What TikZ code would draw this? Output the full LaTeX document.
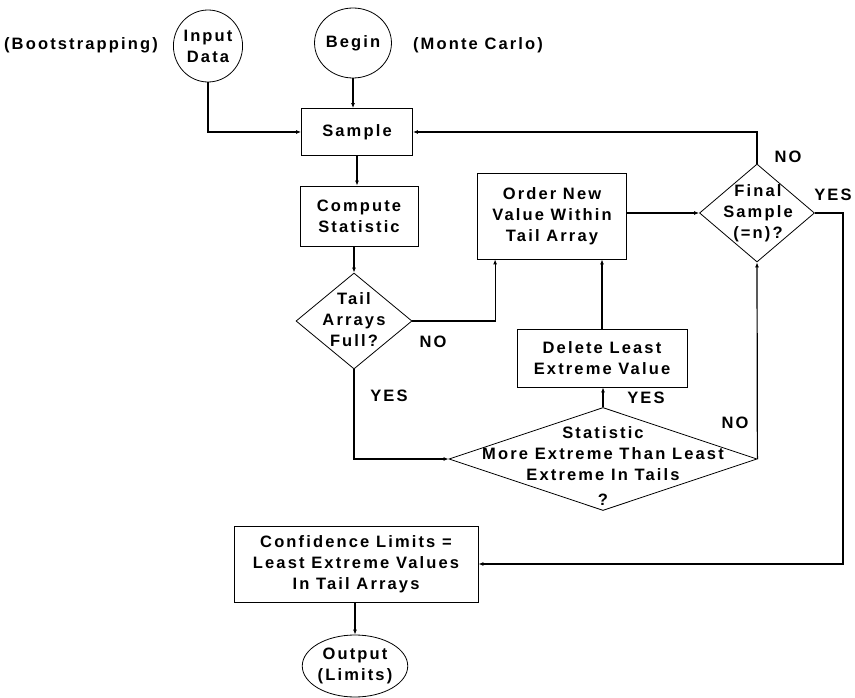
\documentclass[tikz,border=0pt]{standalone}
\usepackage{fontspec}
\setmainfont{Liberation Sans}[LetterSpace=13]
\usetikzlibrary{shapes.geometric,arrows.meta}
\begin{document}
\begin{tikzpicture}[x=1pt,y=-1pt,
  every node/.style={font=\bfseries\fontsize{16.5}{21}\selectfont, align=center},
  box/.style={draw, line width=0.8pt, rectangle, inner sep=0pt},
  oval/.style={draw, line width=0.8pt, ellipse, inner sep=0pt},
  dia/.style={draw, line width=0.8pt, diamond, inner sep=0pt},
  lbl/.style={inner sep=0pt},
  arr/.style={line width=1.2pt, -{Latex[length=5pt,width=4pt]}},
  ln/.style={line width=1.2pt}]
\useasboundingbox (0,0) rectangle (855,698);

% nodes
\node[oval, minimum width=60pt, minimum height=72pt] (inp) at (208,46) {Input\\Data};
\node[oval, minimum width=58pt, minimum height=70pt] (beg) at (353,43) {Begin};
\node[lbl] (boot) at (81,45) {(Bootstrapping)};
\node[lbl] (monte) at (478,45) {(Monte Carlo)};

\node[box, minimum width=111pt, minimum height=47pt] (sample) at (357,132) {Sample};
\node[box, minimum width=118pt, minimum height=60pt] (comp) at (359,216) {Compute\\Statistic};
\node[dia, minimum width=116pt, minimum height=96pt] (tail) at (354,321) {};
\node[lbl] (tailt) at (354,320) {Tail\\Arrays\\Full?};
\node[box, minimum width=149pt, minimum height=86pt] (order) at (552,216) {Order New\\Value Within\\Tail Array};
\node[box, minimum width=170pt, minimum height=58pt] (del) at (602,358) {Delete Least\\Extreme Value};
\node[dia, minimum width=308pt, minimum height=103pt] (stat) at (603,459) {};
\node[lbl] (statt) at (603,466) {Statistic\\More Extreme Than Least\\Extreme In Tails\\[4pt]?};
\node[dia, minimum width=115pt, minimum height=98pt] (final) at (757,213) {};
\node[lbl] (finalt) at (758,213) {Final\\Sample\\(=n)?};
\node[box, minimum width=244pt, minimum height=76pt] (conf) at (356,564) {Confidence Limits =\\Least Extreme Values\\In Tail Arrays};
\node[oval, minimum width=97pt, minimum height=62pt] (out) at (355,666) {Output\\(Limits)};

% branch labels
\node[lbl] (no1) at (433,342) {NO};
\node[lbl] (yes1) at (389,396) {YES};
\node[lbl] (yes2) at (646,398) {YES};
\node[lbl] (no2) at (735,423) {NO};
\node[lbl] (no3) at (788,157) {NO};
\node[lbl] (yes3) at (833,195) {YES};

% connectors
\coordinate (yr) at (843,213);
\draw[arr] (inp.south) |- (sample.west);
\draw[arr] (beg.south) -- (beg.south |- sample.north);
\draw[arr] (sample.south) -- (sample.south |- comp.north);
\draw[arr] (comp.south -| tail.north) -- (tail.north);
\draw[arr] (tail.east) -| ([xshift=18pt]order.south west);
\draw[arr] (del.north) -- (del.north |- order.south);
\draw[arr] (tail.south) |- (stat.west);
\draw[arr] (stat.north) -- (del.south -| stat.north);
\draw[arr] (stat.east) -- (final.south);
\draw[arr] (order.east |- final.west) -- (final.west);
\draw[arr] (final.north) |- (sample.east);
\draw[arr] (final.east) -- (yr) |- (conf.east);
\draw[arr] (conf.south -| out.north) -- (out.north);
\end{tikzpicture}
\end{document}
